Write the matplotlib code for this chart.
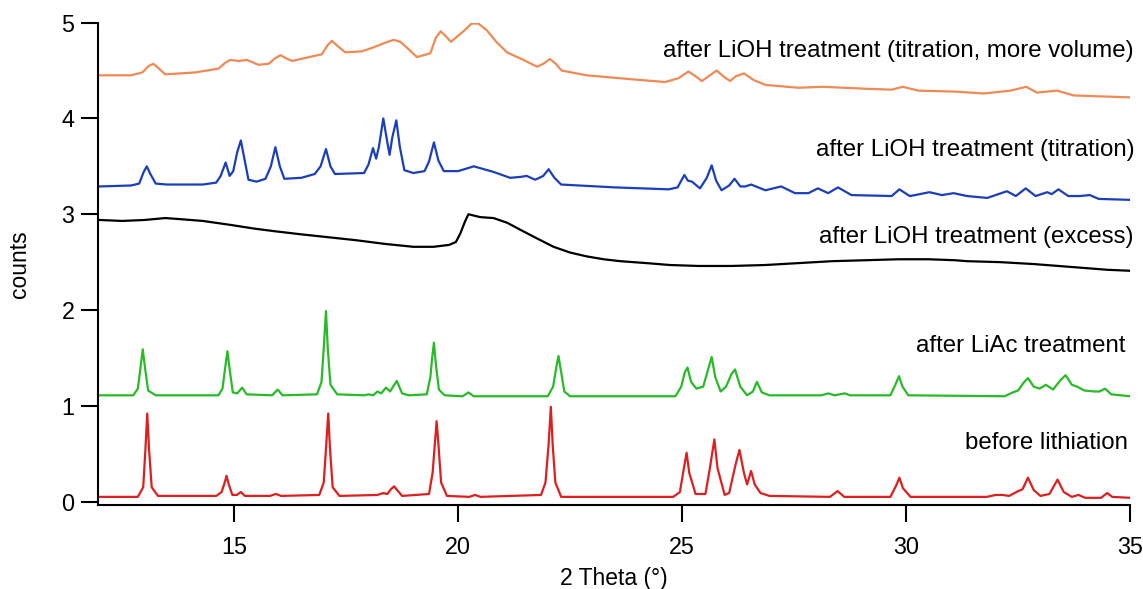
"""XRD patterns of the samples before and after lithiation."""

import matplotlib
matplotlib.use("Agg")
import matplotlib.pyplot as plt
import numpy as np

plt.rcParams["font.family"] = ["Liberation Sans", "DejaVu Sans"]

# (2 theta, counts), one list per pattern
before_pts = [
    (12.0, 0.05), (12.85, 0.05), (12.97, 0.15), (13.02, 0.55), (13.06, 0.92), (13.10, 0.55), (13.16, 0.15), (13.3, 0.06),
    (14.6, 0.06), (14.72, 0.10), (14.79, 0.20), (14.83, 0.27), (14.88, 0.18), (14.96, 0.07), (15.06, 0.07), (15.15, 0.10), (15.24, 0.06),
    (15.8, 0.06), (15.93, 0.08), (16.05, 0.06),
    (16.9, 0.07), (17.0, 0.20), (17.05, 0.55), (17.10, 0.92), (17.14, 0.55), (17.2, 0.15), (17.35, 0.06),
    (18.2, 0.07), (18.33, 0.09), (18.42, 0.08), (18.5, 0.13), (18.57, 0.16), (18.64, 0.12), (18.75, 0.06),
    (19.35, 0.08), (19.43, 0.30), (19.48, 0.60), (19.52, 0.84), (19.56, 0.60), (19.62, 0.20), (19.75, 0.06),
    (20.25, 0.05), (20.38, 0.07), (20.5, 0.05),
    (21.85, 0.07), (21.95, 0.20), (22.02, 0.60), (22.07, 0.99), (22.11, 0.60), (22.17, 0.20), (22.3, 0.05),
    (24.8, 0.05), (24.95, 0.10), (25.04, 0.35), (25.1, 0.51), (25.16, 0.30), (25.3, 0.08), (25.52, 0.08), (25.62, 0.35),
    (25.72, 0.65), (25.79, 0.35), (25.95, 0.07), (26.05, 0.09), (26.2, 0.40), (26.28, 0.54), (26.38, 0.30), (26.45, 0.18),
    (26.54, 0.32), (26.62, 0.18), (26.75, 0.09), (26.95, 0.06),
    (28.3, 0.05), (28.47, 0.11), (28.62, 0.05),
    (29.65, 0.05), (29.78, 0.17), (29.85, 0.25), (29.93, 0.14), (30.1, 0.05),
    (31.8, 0.05), (32.0, 0.07), (32.15, 0.07), (32.3, 0.06), (32.5, 0.11), (32.6, 0.13), (32.72, 0.25), (32.85, 0.12),
    (33.0, 0.06), (33.2, 0.08), (33.38, 0.23), (33.52, 0.10), (33.7, 0.05), (33.85, 0.07), (34.0, 0.04), (34.35, 0.04),
    (34.49, 0.09), (34.6, 0.05), (35.0, 0.04),
]

liac_pts = [
    (12.0, 1.11), (12.75, 1.11), (12.85, 1.18), (12.91, 1.40), (12.96, 1.59), (13.01, 1.40), (13.08, 1.16), (13.25, 1.11),
    (14.65, 1.11), (14.74, 1.18), (14.8, 1.40), (14.85, 1.57), (14.9, 1.38), (14.97, 1.14), (15.07, 1.13), (15.18, 1.19), (15.28, 1.12),
    (15.85, 1.11), (15.97, 1.17), (16.08, 1.11),
    (16.85, 1.12), (16.95, 1.25), (17.0, 1.60), (17.05, 1.99), (17.09, 1.60), (17.15, 1.22), (17.3, 1.12),
    (17.9, 1.11), (18.0, 1.12), (18.1, 1.11), (18.2, 1.15), (18.28, 1.13), (18.39, 1.19), (18.48, 1.15), (18.63, 1.26), (18.75, 1.13), (18.9, 1.11),
    (19.3, 1.12), (19.38, 1.30), (19.42, 1.50), (19.46, 1.66), (19.5, 1.45), (19.57, 1.17), (19.7, 1.11),
    (20.1, 1.10), (20.23, 1.14), (20.35, 1.10),
    (22.0, 1.10), (22.12, 1.20), (22.19, 1.40), (22.24, 1.52), (22.29, 1.38), (22.37, 1.15), (22.5, 1.10),
    (24.85, 1.10), (24.98, 1.20), (25.06, 1.35), (25.12, 1.40), (25.2, 1.25), (25.32, 1.18), (25.47, 1.20), (25.58, 1.38),
    (25.66, 1.51), (25.74, 1.30), (25.86, 1.15), (25.98, 1.20), (26.1, 1.33), (26.18, 1.38), (26.3, 1.20), (26.45, 1.11),
    (26.58, 1.15), (26.67, 1.25), (26.78, 1.14), (26.95, 1.11),
    (28.1, 1.11), (28.27, 1.13), (28.4, 1.11), (28.63, 1.13), (28.75, 1.11),
    (29.65, 1.11), (29.76, 1.22), (29.84, 1.31), (29.92, 1.20), (30.05, 1.11),
    (32.2, 1.10), (32.38, 1.14), (32.5, 1.16), (32.62, 1.24), (32.72, 1.29), (32.85, 1.20), (32.98, 1.18), (33.12, 1.22),
    (33.28, 1.17), (33.45, 1.27), (33.56, 1.32), (33.7, 1.22), (33.82, 1.20), (33.98, 1.16), (34.2, 1.15), (34.32, 1.15),
    (34.44, 1.18), (34.58, 1.12), (35.0, 1.10),
]

excess_pts = [
    (12.0, 2.94), (12.5, 2.93), (13.0, 2.94), (13.46, 2.96), (13.76, 2.95), (14.3, 2.93), (14.9, 2.89), (15.45, 2.85),
    (15.95, 2.82), (16.5, 2.79), (17.1, 2.76), (17.7, 2.73), (18.37, 2.69), (19.0, 2.66), (19.45, 2.66), (19.8, 2.68),
    (19.95, 2.71), (20.05, 2.80), (20.15, 2.92), (20.23, 3.00), (20.49, 2.97), (20.79, 2.96), (21.1, 2.91), (21.38, 2.84),
    (21.75, 2.75), (22.13, 2.66), (22.5, 2.60), (22.87, 2.56), (23.25, 2.53), (23.62, 2.51), (24.2, 2.49), (24.73, 2.47),
    (25.37, 2.46), (26.1, 2.46), (26.86, 2.47), (27.6, 2.49), (28.35, 2.51), (29.1, 2.52), (29.83, 2.53), (30.5, 2.53),
    (31.09, 2.52), (31.36, 2.51), (32.1, 2.50), (32.85, 2.48), (33.4, 2.46), (33.95, 2.44), (34.5, 2.42), (35.0, 2.41),
]

titration_pts = [
    (12.0, 3.29), (12.7, 3.30), (12.88, 3.32), (12.98, 3.44), (13.05, 3.50), (13.13, 3.42), (13.25, 3.32), (13.5, 3.31),
    (14.3, 3.31), (14.6, 3.33), (14.7, 3.40), (14.81, 3.54), (14.9, 3.40), (14.98, 3.45), (15.07, 3.65), (15.15, 3.77),
    (15.22, 3.60), (15.32, 3.36), (15.5, 3.34), (15.7, 3.37), (15.82, 3.50), (15.92, 3.70), (16.02, 3.50), (16.12, 3.37),
    (16.5, 3.38), (16.8, 3.42), (16.93, 3.50), (17.05, 3.68), (17.15, 3.50), (17.25, 3.42), (17.9, 3.43), (18.0, 3.52),
    (18.1, 3.69), (18.17, 3.58), (18.23, 3.70), (18.33, 4.00), (18.42, 3.75), (18.47, 3.62), (18.53, 3.80), (18.62, 3.98),
    (18.7, 3.70), (18.8, 3.46), (19.0, 3.43), (19.25, 3.45), (19.35, 3.55), (19.46, 3.75), (19.56, 3.56), (19.68, 3.45),
    (20.0, 3.45), (20.35, 3.50), (20.8, 3.44), (21.16, 3.38), (21.4, 3.39), (21.53, 3.40), (21.72, 3.36), (21.9, 3.40),
    (22.02, 3.47), (22.15, 3.38), (22.3, 3.31), (23.5, 3.28), (24.7, 3.26),
    (24.9, 3.28), (25.05, 3.41), (25.13, 3.35), (25.22, 3.34), (25.4, 3.27), (25.55, 3.38), (25.66, 3.51), (25.76, 3.35),
    (25.88, 3.25), (26.05, 3.30), (26.17, 3.37), (26.3, 3.29), (26.41, 3.29), (26.54, 3.31), (26.86, 3.25), (27.21, 3.29),
    (27.52, 3.22), (27.82, 3.22), (28.03, 3.27), (28.26, 3.22), (28.48, 3.28), (28.78, 3.20), (29.68, 3.19), (29.85, 3.26),
    (30.08, 3.19), (30.2, 3.20), (30.52, 3.23), (30.8, 3.20), (31.06, 3.22), (31.36, 3.19), (31.81, 3.17), (32.25, 3.24),
    (32.45, 3.19), (32.67, 3.27), (32.89, 3.19), (33.15, 3.23), (33.25, 3.21), (33.4, 3.26), (33.62, 3.19), (33.88, 3.19),
    (34.1, 3.20), (34.3, 3.16), (35.0, 3.15),
]

volume_pts = [
    (12.0, 4.45), (12.7, 4.45), (12.95, 4.48), (13.1, 4.55), (13.2, 4.57), (13.3, 4.53), (13.46, 4.46), (14.13, 4.48),
    (14.65, 4.52), (14.8, 4.58), (14.91, 4.61), (15.1, 4.60), (15.29, 4.61), (15.54, 4.56), (15.77, 4.57), (15.92, 4.63),
    (16.04, 4.66), (16.15, 4.63), (16.29, 4.60), (16.96, 4.67), (17.08, 4.76), (17.18, 4.81), (17.3, 4.76), (17.48, 4.69),
    (17.85, 4.70), (18.1, 4.74), (18.37, 4.79), (18.56, 4.82), (18.71, 4.80), (18.9, 4.72), (19.08, 4.64), (19.38, 4.68),
    (19.5, 4.84), (19.61, 4.91), (19.72, 4.86), (19.84, 4.80), (20.12, 4.91), (20.3, 4.99), (20.45, 4.99), (20.64, 4.92),
    (20.85, 4.80), (21.09, 4.69), (21.46, 4.61), (21.76, 4.54), (21.9, 4.57), (22.05, 4.62), (22.18, 4.57), (22.31, 4.50),
    (22.87, 4.45), (23.84, 4.41), (24.62, 4.38), (24.92, 4.42), (25.14, 4.49), (25.3, 4.44), (25.44, 4.39), (25.62, 4.45),
    (25.77, 4.50), (25.92, 4.44), (26.07, 4.39), (26.2, 4.44), (26.38, 4.47), (26.6, 4.40), (26.86, 4.35), (27.6, 4.32),
    (28.13, 4.33), (29.1, 4.31), (29.68, 4.30), (29.92, 4.33), (30.28, 4.29), (31.09, 4.28), (31.73, 4.26), (32.33, 4.29),
    (32.68, 4.33), (32.92, 4.27), (33.37, 4.29), (33.74, 4.24), (34.34, 4.23), (35.0, 4.22),
]

series = [
    ("before lithiation", before_pts, "#dd1f1f", 34.96, 0.61),
    ("after LiAc treatment", liac_pts, "#28bb28", 34.89, 1.62),
    ("after LiOH treatment (excess)", excess_pts, "#000000", 35.07, 2.76),
    ("after LiOH treatment (titration)", titration_pts, "#1b3fbb", 35.11, 3.67),
    ("after LiOH treatment (titration, more volume)", volume_pts, "#f08a55", 35.07, 4.70),
]

fig = plt.figure(figsize=(11.43, 5.89), dpi=100)
ax = fig.add_axes([0.0857, 0.1426, 0.903, 0.819])

for label, pts, color, tx, ty in series:
    xs, ys = np.array(pts).T
    ax.plot(xs, ys, color=color, lw=1.6, solid_joinstyle="round")
    ax.text(tx, ty, label, ha="right", va="center", fontsize=17.3, clip_on=False)

ax.set_xlim(11.96, 35)
ax.set_ylim(-0.035, 5.0)
ax.set_xticks([15, 20, 25, 30, 35])
ax.set_yticks([0, 1, 2, 3, 4, 5])
ax.tick_params(direction="out", length=12, width=1.5, labelsize=16.8)
ax.tick_params(axis="x", pad=10)
ax.tick_params(axis="y", pad=5)
for side in ("top", "right"):
    ax.spines[side].set_visible(False)
for side in ("left", "bottom"):
    ax.spines[side].set_linewidth(1.5)

ax.set_xlabel("2 Theta (°)", fontsize=16.5, va="center")
ax.set_ylabel("counts", fontsize=16.5, va="center")
ax.xaxis.set_label_coords(0.5, -0.153)
ax.yaxis.set_label_coords(-0.0756, 0.5)

fig.savefig("out.png", dpi=100)
